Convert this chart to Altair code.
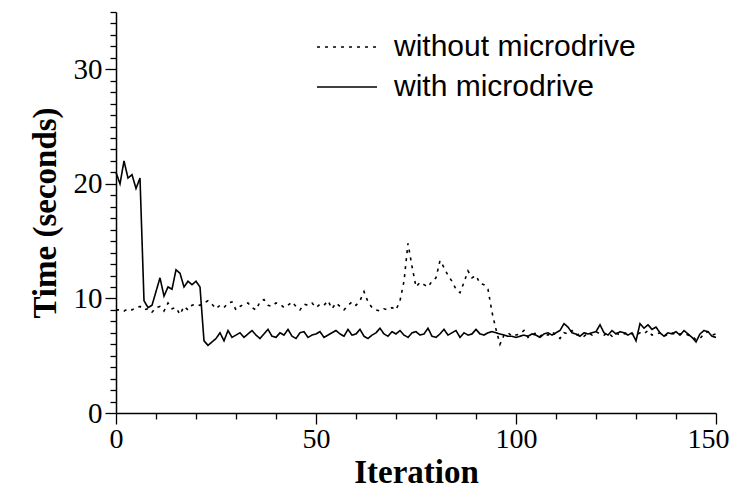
import altair as alt
import pandas as pd

iterations = list(range(151))

without_microdrive = [
    9.0, 9.0, 8.9, 9.1, 9.0, 9.2, 9.3, 9.0, 9.1, 8.8,
    9.2, 9.3, 8.9, 9.6, 9.1, 9.2, 8.6, 9.3, 9.0, 9.4,
    9.5, 9.4, 9.6, 9.8, 9.5, 9.1, 9.4, 9.2, 9.6, 9.7,
    9.0, 9.3, 9.5, 9.6, 9.2, 9.0, 9.7, 9.9, 9.4, 9.3,
    9.6, 9.5, 9.2, 9.4, 9.7, 9.3, 9.0, 9.5, 9.4, 9.6,
    9.2, 9.5, 9.4, 9.8, 9.1, 9.6, 9.3, 9.0, 9.4, 9.7,
    9.4, 9.8, 10.6, 9.7, 9.2, 9.0, 8.9, 9.1, 9.0, 9.2,
    9.0, 9.8, 11.5, 14.8, 12.8, 11.0, 11.4, 11.2, 11.0, 11.5,
    11.8, 13.3, 12.7, 12.0, 11.5, 10.8, 10.5, 11.4, 12.4, 11.8,
    12.0, 11.3, 11.2, 10.8, 8.8, 7.3, 6.0, 6.8, 7.0, 6.7,
    6.8, 6.9, 7.2, 6.6, 6.8, 7.0, 6.7, 6.9, 6.8, 7.1,
    6.8, 6.5, 7.0, 6.9, 7.2, 6.8, 6.9, 6.7, 7.0, 6.8,
    7.1, 6.9, 6.8, 7.0, 6.7, 7.0, 6.8, 6.9, 7.1, 6.9,
    6.8, 7.0, 6.9, 7.2, 6.8, 6.9, 7.0, 6.7, 6.9, 7.0,
    6.8, 6.9, 7.0, 6.8, 6.7, 6.4, 6.5, 6.9, 7.1, 6.8,
    6.9,
]

with_microdrive = [
    21.0, 20.0, 22.0, 20.5, 20.8, 19.6, 20.5, 9.8, 9.2, 9.4,
    10.6, 11.8, 10.2, 11.0, 10.8, 12.5, 12.2, 11.0, 11.5, 11.2,
    11.5, 11.0, 6.3, 5.9, 6.2, 6.5, 7.0, 6.3, 7.2, 6.6,
    6.8, 7.0, 6.6, 6.9, 7.2, 6.8, 6.5, 6.9, 7.3, 6.7,
    6.6, 7.0, 6.8, 7.3, 6.7, 6.5, 7.0, 7.1, 6.6, 6.8,
    6.9, 7.1, 6.6, 6.8, 7.0, 7.2, 6.9, 6.7, 7.3, 6.8,
    6.9, 7.3, 6.7, 6.5, 6.8, 7.0, 7.4, 6.9, 6.7, 7.1,
    6.9, 7.2, 6.8, 6.6, 7.0, 7.1, 6.8, 6.9, 7.4, 6.7,
    6.6, 6.9, 7.3, 6.8, 7.0, 7.2, 6.6, 7.0, 6.8, 6.9,
    7.3, 6.9, 6.8, 7.0, 7.1, 7.0, 6.9, 6.8, 6.7, 6.7,
    6.6, 6.7, 6.8, 6.7, 6.9, 6.8, 6.6, 6.9, 7.0, 6.8,
    7.0, 7.2, 7.8, 7.5, 7.0, 6.9, 6.7, 7.0, 6.9, 7.0,
    7.1, 7.7, 7.0, 6.8, 7.2, 6.9, 7.1, 7.0, 6.8, 7.0,
    6.3, 7.8, 7.4, 7.7, 7.3, 7.5, 7.0, 6.7, 7.0, 6.9,
    7.1, 6.8, 7.2, 6.9, 6.6, 6.2, 6.9, 7.2, 7.1, 6.7,
    6.6,
]

series_names = ["without microdrive", "with microdrive"]
x_tick_values = list(range(0, 151, 10))
y_tick_values = list(range(0, 36))

df = pd.concat([
    pd.DataFrame({"Iteration": iterations, "Time": without_microdrive, "Series": series_names[0]}),
    pd.DataFrame({"Iteration": iterations, "Time": with_microdrive, "Series": series_names[1]}),
])

chart = alt.Chart(df).mark_line(color="black", strokeWidth=1.6).encode(
    x=alt.X(
        "Iteration:Q",
        scale=alt.Scale(domain=[0, 150], nice=False, zero=False),
        axis=alt.Axis(
            title="Iteration",
            values=x_tick_values,
            labelExpr="datum.value % 50 === 0 ? datum.label : ''",
            tickSize={"condition": {"test": "datum.value % 50 === 0", "value": 11}, "value": 6},
            labelOffset={"condition": {"test": "datum.value === 150", "value": -8}, "value": 0},
            grid=False,
            labelFlush=False,
            labelFontSize=28,
            labelPadding=1,
            titlePadding=3,
        ),
    ),
    y=alt.Y(
        "Time:Q",
        scale=alt.Scale(domain=[0, 35], nice=False),
        axis=alt.Axis(
            title="Time (seconds)",
            values=y_tick_values,
            labelExpr="datum.value % 10 === 0 ? datum.label : ''",
            tickSize={"condition": {"test": "datum.value % 10 === 0", "value": 11}, "value": 6},
            grid=False,
            labelFlush=False,
            labelFontSize=29,
            labelPadding=3,
            titlePadding=11,
        ),
    ),
    strokeDash=alt.StrokeDash(
        "Series:N",
        scale=alt.Scale(domain=series_names, range=[[3, 5], [1, 0]]),
        legend=alt.Legend(
            title=None,
            orient="none",
            legendX=200,
            legendY=15,
            symbolType="stroke",
            symbolSize=3600,
            symbolStrokeColor="black",
            symbolStrokeWidth=1.6,
            labelFont="Liberation Sans",
            labelFontSize=30,
            labelColor="black",
            labelOffset=16,
            labelLimit=0,
            clipHeight=40,
            rowPadding=0,
            padding=0,
        ),
    ),
).properties(
    width=600,
    height=401,
    autosize=alt.AutoSizeParams(type="none"),
    padding={"left": 108, "top": 4, "right": 16, "bottom": 76},
).configure_view(
    stroke=None
).configure_axis(
    domainColor="black",
    domainWidth=1.5,
    tickColor="black",
    tickWidth=1.3,
    labelColor="black",
    labelFont="Liberation Serif",
    titleFont="Liberation Serif",
    titleFontWeight="bold",
    titleFontSize=33,
    titleColor="black",
)

chart.save("out.html", embed_options={"renderer": "svg", "actions": False})
